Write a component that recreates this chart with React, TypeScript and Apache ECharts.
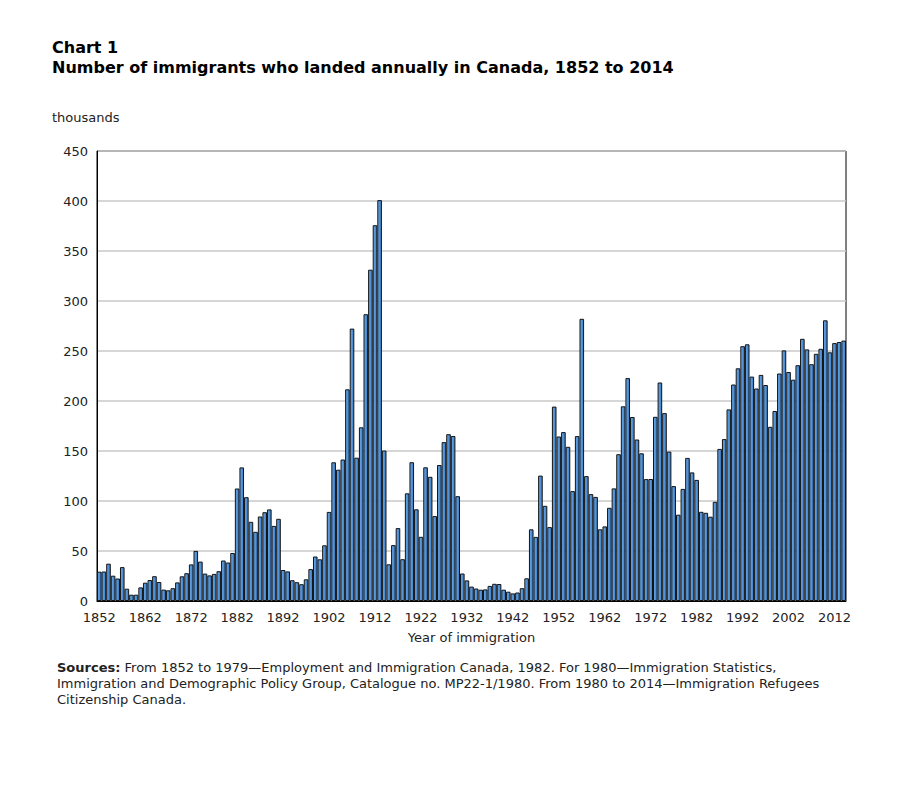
import React, { useEffect, useRef } from 'react';
import * as echarts from 'echarts';

const startYear = 1852;
const endYear = 2014;
const years: string[] = [];
for (let y = startYear; y <= endYear; y++) years.push(String(y));

// Immigrants landed, thousands
const v1852s = [29.3, 29.5, 37.3, 25.3, 22.5, 33.9, 12.3, 6.3, 6.3, 13.6];
const v1862s = [18.3, 21.0, 24.8, 19.0, 11.4, 10.7, 12.8, 18.6, 24.7, 27.8];
const v1872s = [36.6, 50.1, 39.4, 27.4, 25.6, 27.1, 29.8, 40.5, 38.5, 48.0];
const v1882s = [112.5, 133.6, 103.8, 79.2, 69.2, 84.5, 88.8, 91.6, 75.1, 82.2];
const v1892s = [31.0, 29.6, 20.8, 18.8, 16.8, 21.7, 31.9, 44.5, 41.7, 55.7];
const v1902s = [89.1, 138.7, 131.3, 141.5, 211.7, 272.4, 143.3, 173.7, 286.8, 331.3];
const v1912s = [375.8, 400.9, 150.5, 36.7, 55.9, 72.9, 41.8, 107.7, 138.8, 91.7];
const v1922s = [64.2, 133.7, 124.2, 84.9, 136.0, 158.9, 166.8, 165.0, 104.8, 27.5];
const v1932s = [20.6, 14.4, 12.5, 11.3, 11.6, 15.1, 17.2, 17.0, 11.3, 9.3];
const v1942s = [7.6, 8.5, 12.8, 22.7, 71.7, 64.1, 125.4, 95.2, 73.9, 194.4];
const v1952s = [164.5, 168.9, 154.2, 109.9, 164.9, 282.2, 124.9, 106.9, 104.1, 71.7];
const v1962s = [74.6, 93.2, 112.6, 146.8, 194.7, 222.9, 184.0, 161.5, 147.7, 121.9];
const v1972s = [122.0, 184.2, 218.5, 187.9, 149.4, 114.9, 86.3, 112.1, 143.1, 128.6];
const v1982s = [121.1, 89.2, 88.2, 84.3, 99.2, 152.1, 161.9, 191.6, 216.5, 232.7];
const v1992s = [254.8, 256.7, 224.4, 212.5, 226.1, 216.0, 174.2, 190.0, 227.5, 250.6];
const v2002s = [229.0, 221.3, 235.8, 262.2, 251.6, 236.8, 247.2, 252.2, 280.7, 248.7];
const v2012s = [257.9, 259.0, 260.4];

const immigrants = [
  ...v1852s, ...v1862s, ...v1872s, ...v1882s, ...v1892s, ...v1902s, ...v1912s,
  ...v1922s, ...v1932s, ...v1942s, ...v1952s, ...v1962s, ...v1972s, ...v1982s,
  ...v1992s, ...v2002s, ...v2012s,
];

const titleLine1 = 'Chart 1';
const titleLine2 = 'Number of immigrants who landed annually in Canada, 1852 to 2014';
const unitLabel = 'thousands';
const xAxisName = 'Year of immigration';
const sourceLines = [
  '{b|Sources:} From 1852 to 1979\u2014Employment and Immigration Canada, 1982. For 1980\u2014Immigration Statistics,',
  'Immigration and Demographic Policy Group, Catalogue no. MP22-1/1980. From 1980 to 2014\u2014Immigration Refugees',
  'Citizenship Canada.',
];

const FONT = '"DejaVu Sans", Verdana, sans-serif';

export default function App() {
  const ref = useRef<HTMLDivElement>(null);
  useEffect(() => {
    if (!ref.current) return;
    const chart = echarts.init(ref.current, null, { renderer: 'svg' });
    chart.setOption({
      animation: false,
      backgroundColor: '#ffffff',
      textStyle: { fontFamily: FONT },
      grid: {
        left: 97, right: 54, top: 151, bottom: 189,
        show: true, borderColor: '#000', borderWidth: 1,
      },
      xAxis: {
        type: 'category',
        data: years,
        boundaryGap: true,
        axisLine: { show: true, lineStyle: { color: '#000', width: 1 } },
        axisTick: { show: false },
        axisLabel: { interval: 9, fontSize: 13, color: '#222', margin: 10, fontFamily: FONT },
        splitLine: { show: false },
      },
      yAxis: {
        type: 'value',
        min: 0, max: 450, interval: 50,
        axisLine: { show: true, lineStyle: { color: '#000', width: 1 } },
        axisTick: { show: false },
        axisLabel: { fontSize: 13, color: '#222', margin: 9, fontFamily: FONT },
        splitLine: { show: true, lineStyle: { color: '#c8c8c8', width: 1.5 } },
      },
      series: [
        {
          type: 'bar',
          data: immigrants,
          barCategoryGap: '0%',
          itemStyle: {
            color: new echarts.graphic.LinearGradient(0, 0, 1, 0, [
              { offset: 0, color: '#6aa9e8' },
              { offset: 1, color: '#3a7cc6' },
            ]),
            borderColor: '#141414',
            borderWidth: 1,
          },
        },
      ],
      graphic: [
        { type: 'text', left: 52, top: 39, style: { text: titleLine1, font: `bold 16px ${FONT}`, fill: '#000' } },
        { type: 'text', left: 52, top: 59, style: { text: titleLine2, font: `bold 16px ${FONT}`, fill: '#000' } },
        { type: 'text', left: 52, top: 111, style: { text: unitLabel, font: `13px ${FONT}`, fill: '#222' } },
        {
          type: 'text', x: 471.5, y: 631,
          style: { text: xAxisName, font: `13px ${FONT}`, fill: '#222', align: 'center', verticalAlign: 'top' },
        },
        ...sourceLines.map((t, i) => ({
          type: 'text',
          left: 57,
          top: 661 + i * 16,
          style: {
            text: t,
            font: `13px ${FONT}`,
            fill: '#222',
            rich: { b: { fontWeight: 'bold', fontSize: 13, fontFamily: FONT, fill: '#222' } },
          },
        })),
      ],
    });
    return () => chart.dispose();
  }, []);
  return <div ref={ref} style={{ position: 'fixed', left: 0, top: 0, width: 900, height: 790 }} />;
}
